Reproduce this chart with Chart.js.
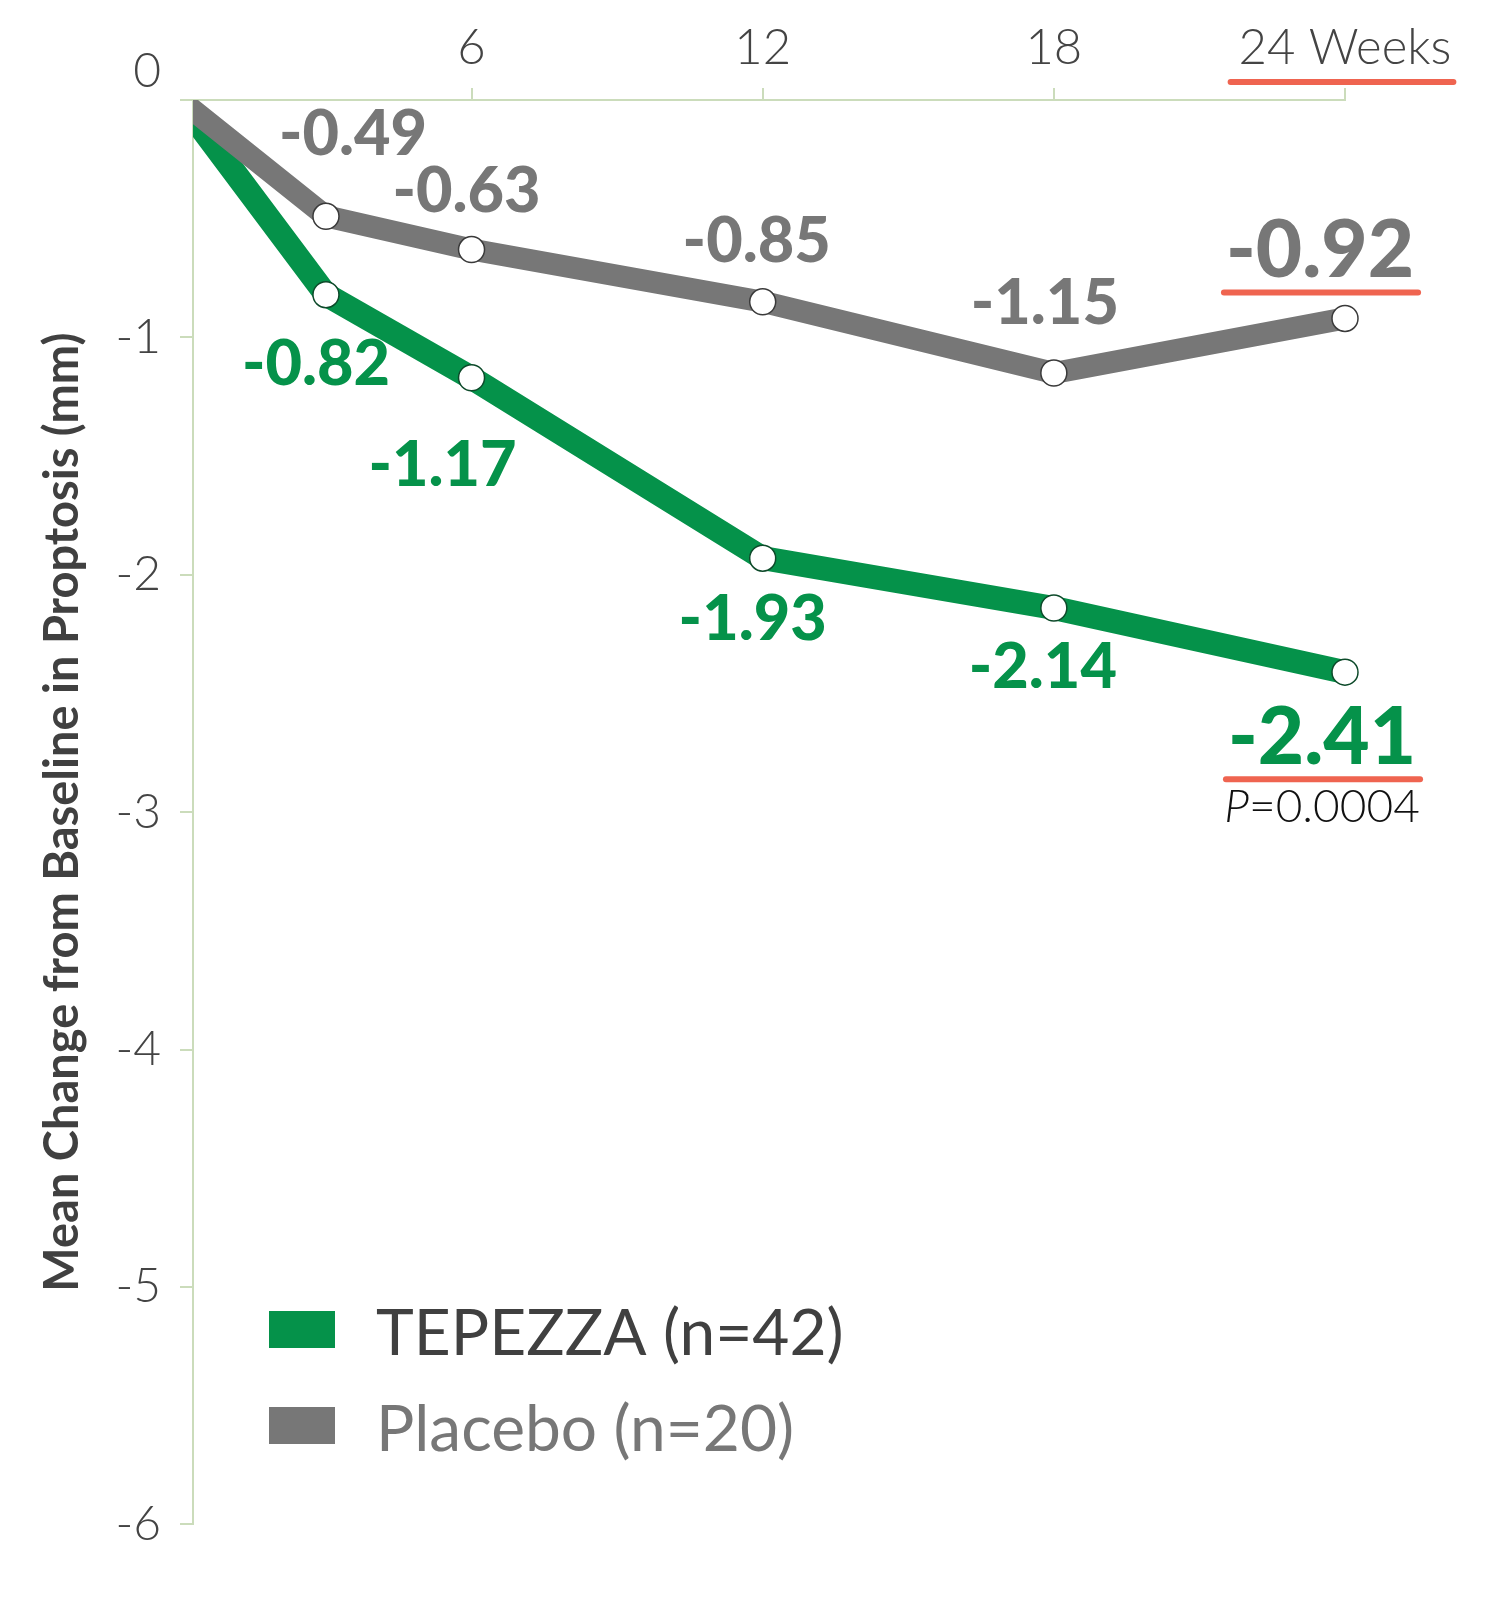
<!DOCTYPE html>
<html><head><meta charset="utf-8">
<script src="https://cdn.jsdelivr.net/npm/chart.js@4.4.1/dist/chart.umd.min.js"></script>
<style>html,body{margin:0;padding:0;background:#fff;}canvas{display:block;}</style>
</head><body>
<canvas id="c" width="1501" height="1601"></canvas>
<script>
// ---- data ----
const weeks = [0, 3, 6, 12, 18, 24];
const tepezzaValues = [0, -0.82, -1.17, -1.93, -2.14, -2.41];
const placeboValues = [0, -0.49, -0.63, -0.85, -1.15, -0.92];
const xTickValues = [6, 12, 18, 24];
const xTickLabels = ['6', '12', '18', '24 Weeks'];
const yTickValues = [0, -1, -2, -3, -4, -5, -6];
const seriesNames = ['TEPEZZA (n=42)', 'Placebo (n=20)'];
const yAxisTitle = 'Mean Change from Baseline in Proptosis (mm)';
const pValueLabel = ['P', '=0.0004'];

// ---- style ----
const GREEN = '#05924a', GREY = '#777777', AXIS = '#cbdcbb', RED = '#ef6450', TEXT = '#444444';
const FONT = 'Lato';
const tepezzaLabelOffsets = [null, [-10, 70], [-29, 88], [-10, 62], [-11, 60], [-23, 66]];
const placeboLabelOffsets = [null, [27, -82], [-5, -58], [-6, -60], [-9, -69], [-25, -67]];

function pts(vals) { return weeks.map((w, i) => ({x: w, y: vals[i]})); }

const labelPlugin = {
  id: 'labels',
  afterDatasetsDraw(chart) {
    const ctx = chart.ctx;
    ctx.save();
    ctx.textAlign = 'center';
    ctx.textBaseline = 'middle';
    const sets = [
      {di: 0, offs: tepezzaLabelOffsets, color: GREEN},
      {di: 1, offs: placeboLabelOffsets, color: '#777777'}
    ];
    sets.forEach(s => {
      const meta = chart.getDatasetMeta(s.di);
      const vals = chart.data.datasets[s.di].data;
      meta.data.forEach((el, i) => {
        if (!s.offs[i]) return;
        const last = i === vals.length - 1;
        const size = last ? 80 : 63;
        ctx.font = `900 ${size}px ${FONT}`;
        ctx.fillStyle = s.color;
        const cx = el.x + s.offs[i][0], cy = el.y + s.offs[i][1];
        const txt = vals[i].y.toFixed(2);
        ctx.fillText(txt, cx, cy);
        if (last) {
          const w = ctx.measureText(txt).width;
          ctx.strokeStyle = RED; ctx.lineWidth = 6; ctx.lineCap = 'round';
          ctx.beginPath(); ctx.moveTo(cx - w / 2 - 2, cy + 41); ctx.lineTo(cx + w / 2 + 4, cy + 41); ctx.stroke();
          if (s.di === 0) {
            ctx.fillStyle = '#111111';
            ctx.font = `italic 300 46px ${FONT}`;
            const w1 = ctx.measureText(pValueLabel[0]).width;
            ctx.font = `300 46px ${FONT}`;
            const w2 = ctx.measureText(pValueLabel[1]).width;
            const x0 = cx - (w1 + w2) / 2;
            ctx.textAlign = 'left';
            ctx.font = `italic 300 46px ${FONT}`;
            ctx.fillText(pValueLabel[0], x0, cy + 69);
            ctx.font = `300 46px ${FONT}`;
            ctx.fillText(pValueLabel[1], x0 + w1, cy + 69);
            ctx.textAlign = 'center';
          }
        }
      });
    });
    ctx.restore();
  },
  afterDraw(chart) {
    const ctx = chart.ctx;
    ctx.save();
    const xs = chart.scales.x;
    const px = xs.getPixelForValue(xTickValues[xTickValues.length - 1]);
    ctx.font = `300 49px ${FONT}`;
    const w = ctx.measureText(xTickLabels[xTickLabels.length - 1]).width;
    ctx.strokeStyle = RED; ctx.lineWidth = 6; ctx.lineCap = 'round';
    ctx.beginPath(); ctx.moveTo(px - w / 2 - 8, chart.chartArea.top - 18); ctx.lineTo(px + w / 2 + 2, chart.chartArea.top - 18); ctx.stroke();
    const colors = [GREEN, GREY];
    const textColors = ['#404040', '#777777'];
    const left = chart.chartArea.left + 76;
    const tops = [1311, 1407];
    ctx.textAlign = 'left';
    ctx.textBaseline = 'alphabetic';
    seriesNames.forEach((n, i) => {
      ctx.fillStyle = colors[i];
      ctx.fillRect(left, tops[i], 66, 37);
      ctx.fillStyle = textColors[i];
      ctx.font = `400 64px ${FONT}`;
      ctx.fillText(n, left + 107, tops[i] + 44);
    });
    ctx.restore();
  }
};

new Chart(document.getElementById('c'), {
  type: 'line',
  data: {
    datasets: [
      {label: seriesNames[0], data: pts(tepezzaValues), borderColor: GREEN, borderWidth: 24, tension: 0,
       pointRadius: weeks.map((w, i) => i === 0 ? 0 : 13), pointBackgroundColor: '#ffffff',
       pointBorderColor: '#0d4a2a', pointBorderWidth: 1.5, order: 2,
       clip: {left: 0, top: 0, right: 30, bottom: 30}},
      {label: seriesNames[1], data: pts(placeboValues), borderColor: GREY, borderWidth: 22, tension: 0,
       pointRadius: weeks.map((w, i) => i === 0 ? 0 : 13), pointBackgroundColor: '#ffffff',
       pointBorderColor: '#3a3a3a', pointBorderWidth: 1.5, order: 1,
       clip: {left: 0, top: 0, right: 30, bottom: 30}}
    ]
  },
  options: {
    responsive: false, animation: false, devicePixelRatio: 1,
    layout: {padding: {left: 0, right: 156, top: 0, bottom: 52}},
    plugins: {legend: {display: false}, tooltip: {enabled: false}},
    scales: {
      x: {
        type: 'linear', position: 'top', min: 0.26, max: 24,
        afterBuildTicks: s => { s.ticks = xTickValues.map(v => ({value: v})); },
        afterFit: s => { s.height = 100; },
        grid: {drawOnChartArea: false, drawTicks: true, tickLength: 12, color: AXIS, lineWidth: 2},
        border: {color: AXIS, width: 2},
        ticks: {padding: 10, autoSkip: false, maxRotation: 0, color: TEXT,
          font: {family: FONT, size: 49, weight: 300},
          callback: v => xTickLabels[xTickValues.indexOf(v)]}
      },
      y: {
        type: 'linear', min: -6, max: 0,
        afterBuildTicks: s => { s.ticks = yTickValues.map(v => ({value: v})); },
        afterFit: s => { s.width = 193; },
        grid: {drawOnChartArea: false, drawTicks: true, tickLength: 13, color: AXIS, lineWidth: 2},
        border: {color: AXIS, width: 2},
        title: {display: true, text: yAxisTitle, color: '#404040',
          font: {family: FONT, size: 47, weight: 'bold'}, padding: {top: 35, bottom: 0}},
        ticks: {padding: 19, color: TEXT, font: {family: FONT, size: 48, weight: 300},
          callback: v => v === 0 ? ['0', ''] : String(v)}
      }
    }
  },
  plugins: [labelPlugin]
});
</script>
</body></html>
